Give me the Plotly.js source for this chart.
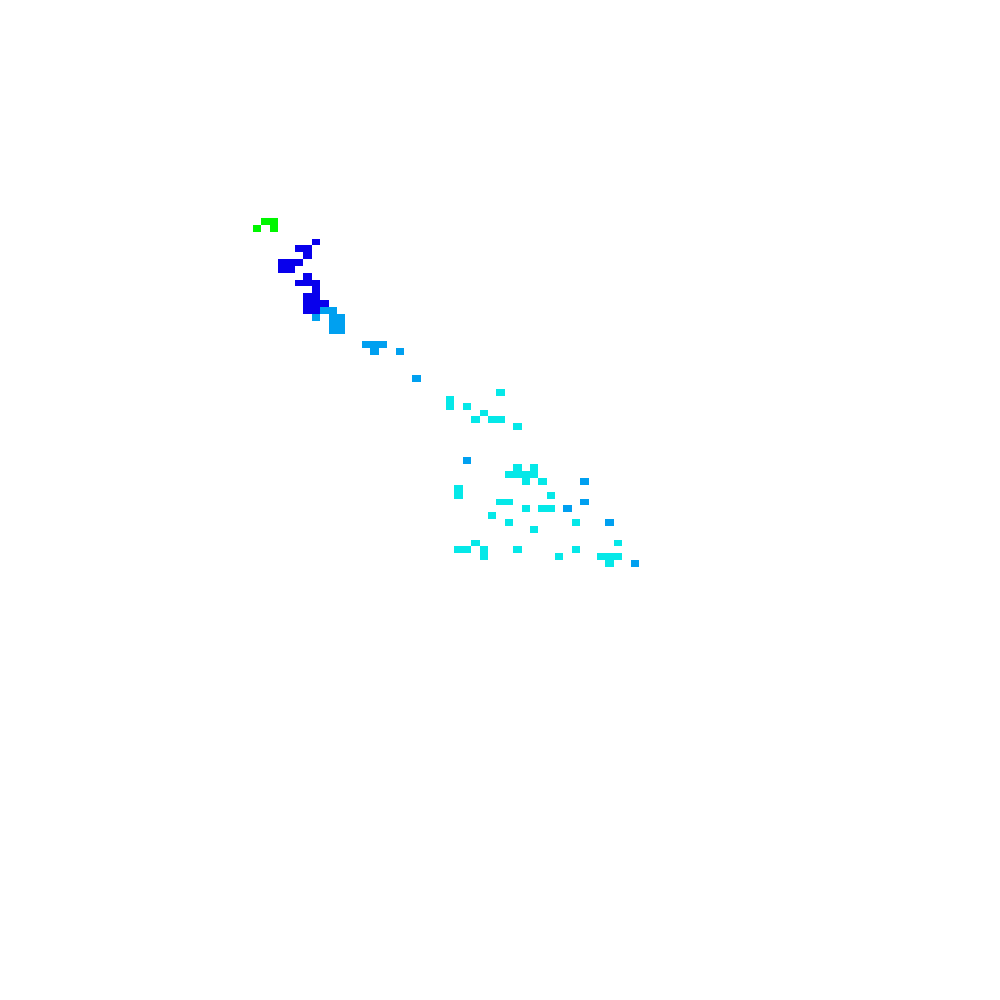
<!DOCTYPE html>
<html>
<head>
<meta charset="utf-8">
<script src="https://cdn.plot.ly/plotly-3.0.1.min.js"></script>
<style>html,body{margin:0;padding:0;background:#fff;}#chart{width:1000px;height:1000px;}</style>
</head>
<body>
<div id="chart"></div>
<script>
// Grid cells: column index, row index and class level (0 = blue, 1 = light blue, 2 = cyan, 3 = green)
const level0Cols = [7,5,6,6,3,4,5,3,4,6,5,6,7,7,6,7,6,7,8,6,7];
const level0Rows = [3,4,4,5,6,6,6,7,7,8,9,9,9,10,11,11,12,12,12,13,13];

const level1Cols = [8,9,7,9,10,9,10,9,10,13,14,15,14,17,19,25,39,39,37,42,45];
const level1Rows = [13,13,14,14,14,15,15,16,16,18,18,18,19,19,23,35,38,41,42,44,50];

const level2Cols = [23,23,25,29,27,26,28,29,31,31,33,30,31,32,33,32,34,24,24,35,29,30,32,34,35,28,30,38,33,26,43,24,25,27,31,38,27,36,41,42,43,42];
const level2Rows = [26,27,27,25,28,29,29,29,30,36,36,37,37,37,37,38,38,39,40,40,41,41,42,42,42,43,44,44,45,47,47,48,48,48,48,48,49,49,49,49,49,50];

const level3Cols = [1,2,0,2];
const level3Rows = [0,0,1,1];

const nCols = 46;
const nRows = 51;

const z = [];
for (let r = 0; r < nRows; r++) { z.push(new Array(nCols).fill(null)); }
[[level0Cols, level0Rows, 0], [level1Cols, level1Rows, 1], [level2Cols, level2Rows, 2], [level3Cols, level3Rows, 3]]
  .forEach(([cs, rs, v]) => { cs.forEach((c, i) => { z[rs[i]][c] = v; }); });

const xs = Array.from({length: nCols}, (_, i) => i);
const ys = Array.from({length: nRows}, (_, i) => i);

const cBlue = '#0800ec', cLight = '#00a0f0', cCyan = '#05e8e8', cGreen = '#00f600';

Plotly.newPlot('chart', [{
  type: 'heatmap',
  x: xs, y: ys, z: z,
  zmin: -0.5, zmax: 3.5,
  colorscale: [[0, cBlue],[0.25, cBlue],[0.25, cLight],[0.5, cLight],[0.5, cCyan],[0.75, cCyan],[0.75, cGreen],[1, cGreen]],
  showscale: false,
  zsmooth: false,
  hoverongaps: false
}], {
  width: 1000, height: 1000,
  margin: {l: 0, r: 0, t: 0, b: 0},
  paper_bgcolor: '#ffffff', plot_bgcolor: '#ffffff',
  showlegend: false,
  xaxis: {range: [-30.655, 88.53], visible: false, showgrid: false, zeroline: false},
  yaxis: {range: [113.83, -32.37], visible: false, showgrid: false, zeroline: false}
}, {displayModeBar: false, staticPlot: true});
</script>
</body>
</html>
